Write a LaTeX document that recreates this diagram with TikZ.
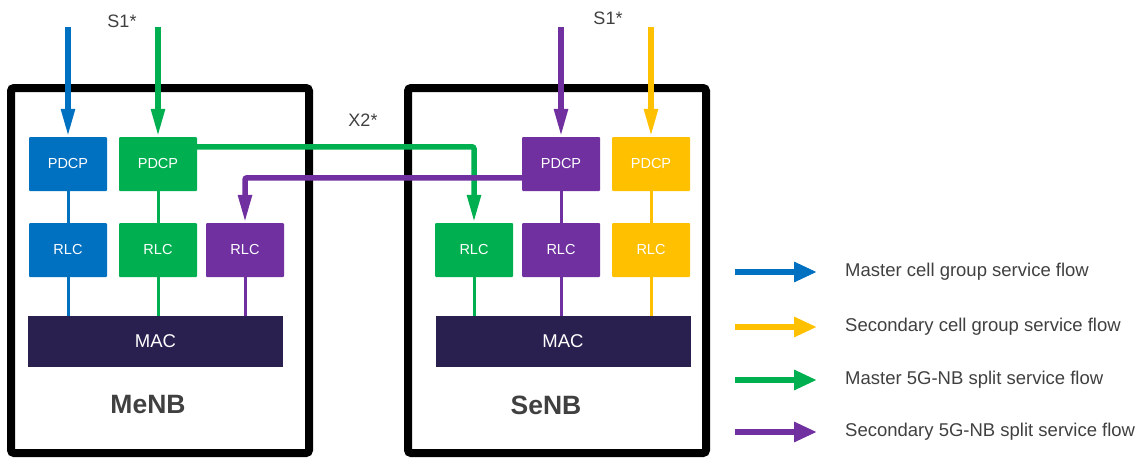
\documentclass[tikz,border=0pt]{standalone}
\usepackage{fontspec}
\setmainfont{Liberation Sans}
\usepackage[dvipsnames]{xcolor}
\definecolor{cblue}{HTML}{0070C0}
\definecolor{cgreen}{HTML}{00B050}
\definecolor{cpurple}{HTML}{7030A0}
\definecolor{cyellow}{HTML}{FFC000}
\definecolor{cmac}{HTML}{2A2050}
\definecolor{ctext}{HTML}{404040}
\usepackage{tikz}
\usetikzlibrary{arrows.meta,positioning,calc}
\tikzset{
  enb/.style={draw=black,line width=8pt,rounded corners=3pt,minimum width=298pt,minimum height=365pt,inner sep=0pt},
  blk/.style={rounded corners=1pt,minimum width=78pt,minimum height=54pt,inner sep=0pt,text=white,font=\fontsize{14.5}{16}\selectfont},
  mac/.style={fill=cmac,minimum width=255pt,minimum height=51pt,inner sep=0pt,text=white,font=\fontsize{18.5}{20}\selectfont},
  lab/.style={text=ctext,font=\fontsize{18}{21}\selectfont},
  enblab/.style={text=ctext,font=\fontsize{26.5}{30}\selectfont\bfseries},
  leg/.style={text=ctext,anchor=west,inner sep=3pt,font=\fontsize{18.5}{21}\selectfont},
  flow/.style={-{Triangle[length=28pt,width=13pt]},line width=5.5pt,rounded corners=2pt},
  link/.style={line width=3pt},
  legarr/.style={-{Triangle[length=23pt,width=19pt]},line width=6.5pt,shorten >=25pt},
}
\begin{document}
\begin{tikzpicture}[x=1pt,y=-1pt]
\useasboundingbox (0,0) rectangle (1138,458);
% eNB frames
\node[enb] (menb) at (160,270.5) {};
\node[enb] (senb) at (557,270.5) {};
\node[enblab] (menbl) at (148,405) {MeNB};
\node[enblab] (senbl) at (546,405) {SeNB};
% PDCP
\node[blk,fill=cblue] (pdcpA) at (68,164) {PDCP};
\node[blk,fill=cgreen] (pdcpB) at (158,164) {PDCP};
\node[blk,fill=cpurple] (pdcpC) at (561,164) {PDCP};
\node[blk,fill=cyellow] (pdcpD) at (651,164) {PDCP};
% RLC
\node[blk,fill=cblue] (rlcA) at (68,250) {RLC};
\node[blk,fill=cgreen] (rlcB) at (158,250) {RLC};
\node[blk,fill=cpurple] (rlcC) at (245,250) {RLC};
\node[blk,fill=cgreen] (rlcD) at (474,250) {RLC};
\node[blk,fill=cpurple] (rlcE) at (561,250) {RLC};
\node[blk,fill=cyellow] (rlcF) at (651,250) {RLC};
% MAC
\node[mac] (macA) at (155.5,341.5) {MAC};
\node[mac] (macB) at (563,341.5) {MAC};
% S1 / X2
\node[lab] (s1a) at (122,21) {S1*};
\node[lab] (s1b) at (608,18) {S1*};
\node[lab] (x2) at (363,120) {X2*};
\coordinate (inA) at (68,27);
\coordinate (inB) at (158,27);
\coordinate (inC) at (561,27);
\coordinate (inD) at (651,27);
\draw[flow,cblue] (inA) -- (pdcpA.north);
\draw[flow,cgreen] (inB) -- (pdcpB.north);
\draw[flow,cpurple] (inC) -- (pdcpC.north);
\draw[flow,cyellow] (inD) -- (pdcpD.north);
\draw[flow,cgreen] ($(pdcpB.north east)+(0,10)$) -| (rlcD.north);
\draw[flow,cpurple] ($(pdcpC.north west)+(0,41)$) -| (rlcC.north);
% inner links
\draw[link,cblue] (pdcpA) -- (rlcA);
\draw[link,cgreen] (pdcpB) -- (rlcB);
\draw[link,cpurple] (pdcpC) -- (rlcE);
\draw[link,cyellow] (pdcpD) -- (rlcF);
\draw[link,cblue] (rlcA.south) -- (rlcA.south |- macA.north);
\draw[link,cgreen] (rlcB.south) -- (rlcB.south |- macA.north);
\draw[link,cpurple] (rlcC.south) -- (rlcC.south |- macA.north);
\draw[link,cgreen] (rlcD.south) -- (rlcD.south |- macB.north);
\draw[link,cpurple] (rlcE.south) -- (rlcE.south |- macB.north);
\draw[link,cyellow] (rlcF.south) -- (rlcF.south |- macB.north);
% legend
\node[leg] (legA) at (842,272) {Master cell group service flow};
\node[leg] (legB) at (842,327) {Secondary cell group service flow};
\node[leg] (legC) at (842,380) {Master 5G-NB split service flow};
\node[leg] (legD) at (842,432) {Secondary 5G-NB split service flow};
\coordinate (la) at (735,272);
\coordinate (lb) at (735,327);
\coordinate (lc) at (735,380);
\coordinate (ld) at (735,432);
\draw[legarr,cblue] (la) -- (legA.west);
\draw[legarr,cyellow] (lb) -- (legB.west);
\draw[legarr,cgreen] (lc) -- (legC.west);
\draw[legarr,cpurple] (ld) -- (legD.west);
\end{tikzpicture}
\end{document}
